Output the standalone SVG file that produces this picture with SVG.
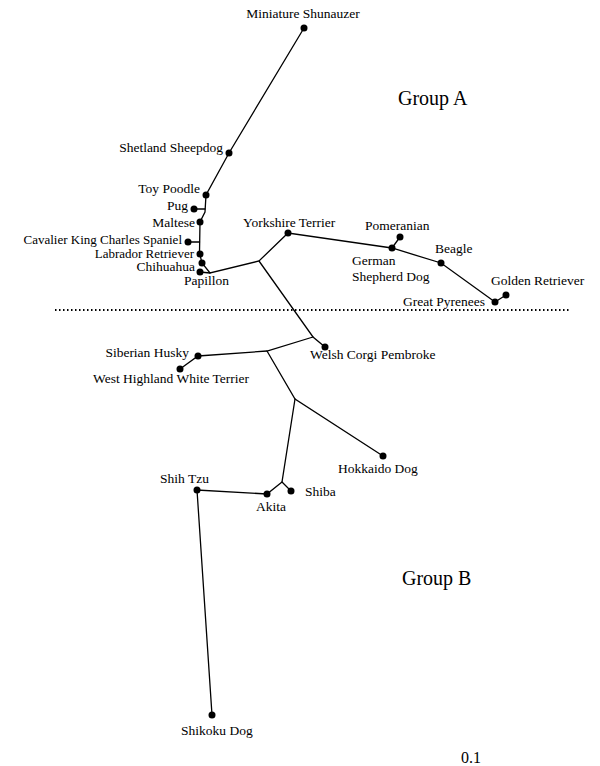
<svg xmlns="http://www.w3.org/2000/svg" width="600" height="766" viewBox="0 0 600 766">
<style>
.e{stroke:#000;stroke-width:1.3;fill:none;stroke-linecap:round}
.d{fill:#000}
text{font-family:"Liberation Serif","Times New Roman",serif;font-size:13.5px;fill:#000}
.g{font-size:20px}
.s{font-size:16px}
.r{text-anchor:end}
.t{font-size:13px}
</style>
<rect width="600" height="766" fill="#fff"/>
<g id="connectors">
<polyline class="e" points="304,28 229,153 206,195 205,212 200,222 199.5,253 202,263 210,273 259,261 288,233 392,248 441,263 495,302"/>
<line class="e" x1="193" y1="209" x2="205" y2="209"/>
<line class="e" x1="188" y1="242" x2="199.5" y2="242"/>
<line class="e" x1="200" y1="272" x2="210" y2="273"/>
<line class="e" x1="392" y1="248" x2="400" y2="237"/>
<line class="e" x1="495" y1="302" x2="506" y2="295"/>
<polyline class="e" points="259,261 313,337 325,347"/>
<polyline class="e" points="313,337 267,351 198,356 180,369"/>
<polyline class="e" points="267,351 295,399 383,456"/>
<polyline class="e" points="295,399 282,482 291,491"/>
<polyline class="e" points="282,482 267,494 197,490 212,715"/>
<line x1="55" y1="310" x2="570" y2="310" stroke="#000" stroke-width="2" stroke-dasharray="1.5,2.5"/>
</g>
<g id="n-miniature-shunauzer"><circle class="d" cx="304" cy="28" r="3.5"/><text x="303" y="18" text-anchor="middle">Miniature Shunauzer</text></g>
<g id="n-shetland-sheepdog"><circle class="d" cx="229" cy="153" r="3.5"/><text class="r" x="223" y="152">Shetland Sheepdog</text></g>
<g id="n-toy-poodle"><circle class="d" cx="206" cy="195" r="3.5"/><text class="r" x="200" y="193">Toy Poodle</text></g>
<g id="n-pug"><circle class="d" cx="194" cy="209" r="3.5"/><text class="r" x="188" y="210">Pug</text></g>
<g id="n-maltese"><circle class="d" cx="200" cy="222" r="3.5"/><text class="r" x="195" y="227">Maltese</text></g>
<g id="n-cavalier"><circle class="d" cx="188" cy="242" r="3.5"/><text class="r t" x="182" y="244">Cavalier King Charles Spaniel</text></g>
<g id="n-labrador"><circle class="d" cx="200" cy="254" r="3.5"/><text class="r t" x="194" y="257.5">Labrador Retriever</text></g>
<g id="n-chihuahua"><circle class="d" cx="202" cy="263" r="3.5"/><text class="r" x="195" y="271">Chihuahua</text></g>
<g id="n-papillon"><circle class="d" cx="200" cy="272" r="3.5"/><text x="184" y="285">Papillon</text></g>
<g id="n-yorkshire"><circle class="d" cx="288" cy="233" r="3.5"/><text x="243" y="227">Yorkshire Terrier</text></g>
<g id="n-pomeranian"><circle class="d" cx="400" cy="237" r="3.5"/><text x="365" y="230">Pomeranian</text></g>
<g id="n-german-shepherd"><circle class="d" cx="392" cy="248" r="3.5"/><text x="352" y="265">German</text><text x="352" y="281">Shepherd Dog</text></g>
<g id="n-beagle"><circle class="d" cx="441" cy="263" r="3.5"/><text x="435" y="253">Beagle</text></g>
<g id="n-great-pyrenees"><circle class="d" cx="495" cy="302" r="3.5"/><text class="r" x="485" y="306">Great Pyrenees</text></g>
<g id="n-golden-retriever"><circle class="d" cx="506" cy="295" r="3.5"/><text x="491" y="285">Golden Retriever</text></g>
<g id="n-welsh-corgi"><circle class="d" cx="325" cy="347" r="3.5"/><text x="310" y="359">Welsh Corgi Pembroke</text></g>
<g id="n-siberian-husky"><circle class="d" cx="198" cy="356" r="3.5"/><text class="r" x="189" y="357">Siberian Husky</text></g>
<g id="n-west-highland"><circle class="d" cx="180" cy="369" r="3.5"/><text x="93" y="383">West Highland White Terrier</text></g>
<g id="n-hokkaido"><circle class="d" cx="383" cy="456" r="3.5"/><text x="338" y="473">Hokkaido Dog</text></g>
<g id="n-shiba"><circle class="d" cx="291" cy="491" r="3.5"/><text x="305" y="496">Shiba</text></g>
<g id="n-akita"><circle class="d" cx="267" cy="494" r="3.5"/><text x="256" y="511">Akita</text></g>
<g id="n-shih-tzu"><circle class="d" cx="197" cy="490" r="3.5"/><text x="160" y="483">Shih Tzu</text></g>
<g id="n-shikoku"><circle class="d" cx="212" cy="715" r="3.5"/><text x="181" y="735">Shikoku Dog</text></g>
<text class="g" x="398" y="105">Group A</text>
<text class="g" x="402" y="585">Group B</text>
<text class="s" x="461" y="763">0.1</text>
</svg>
